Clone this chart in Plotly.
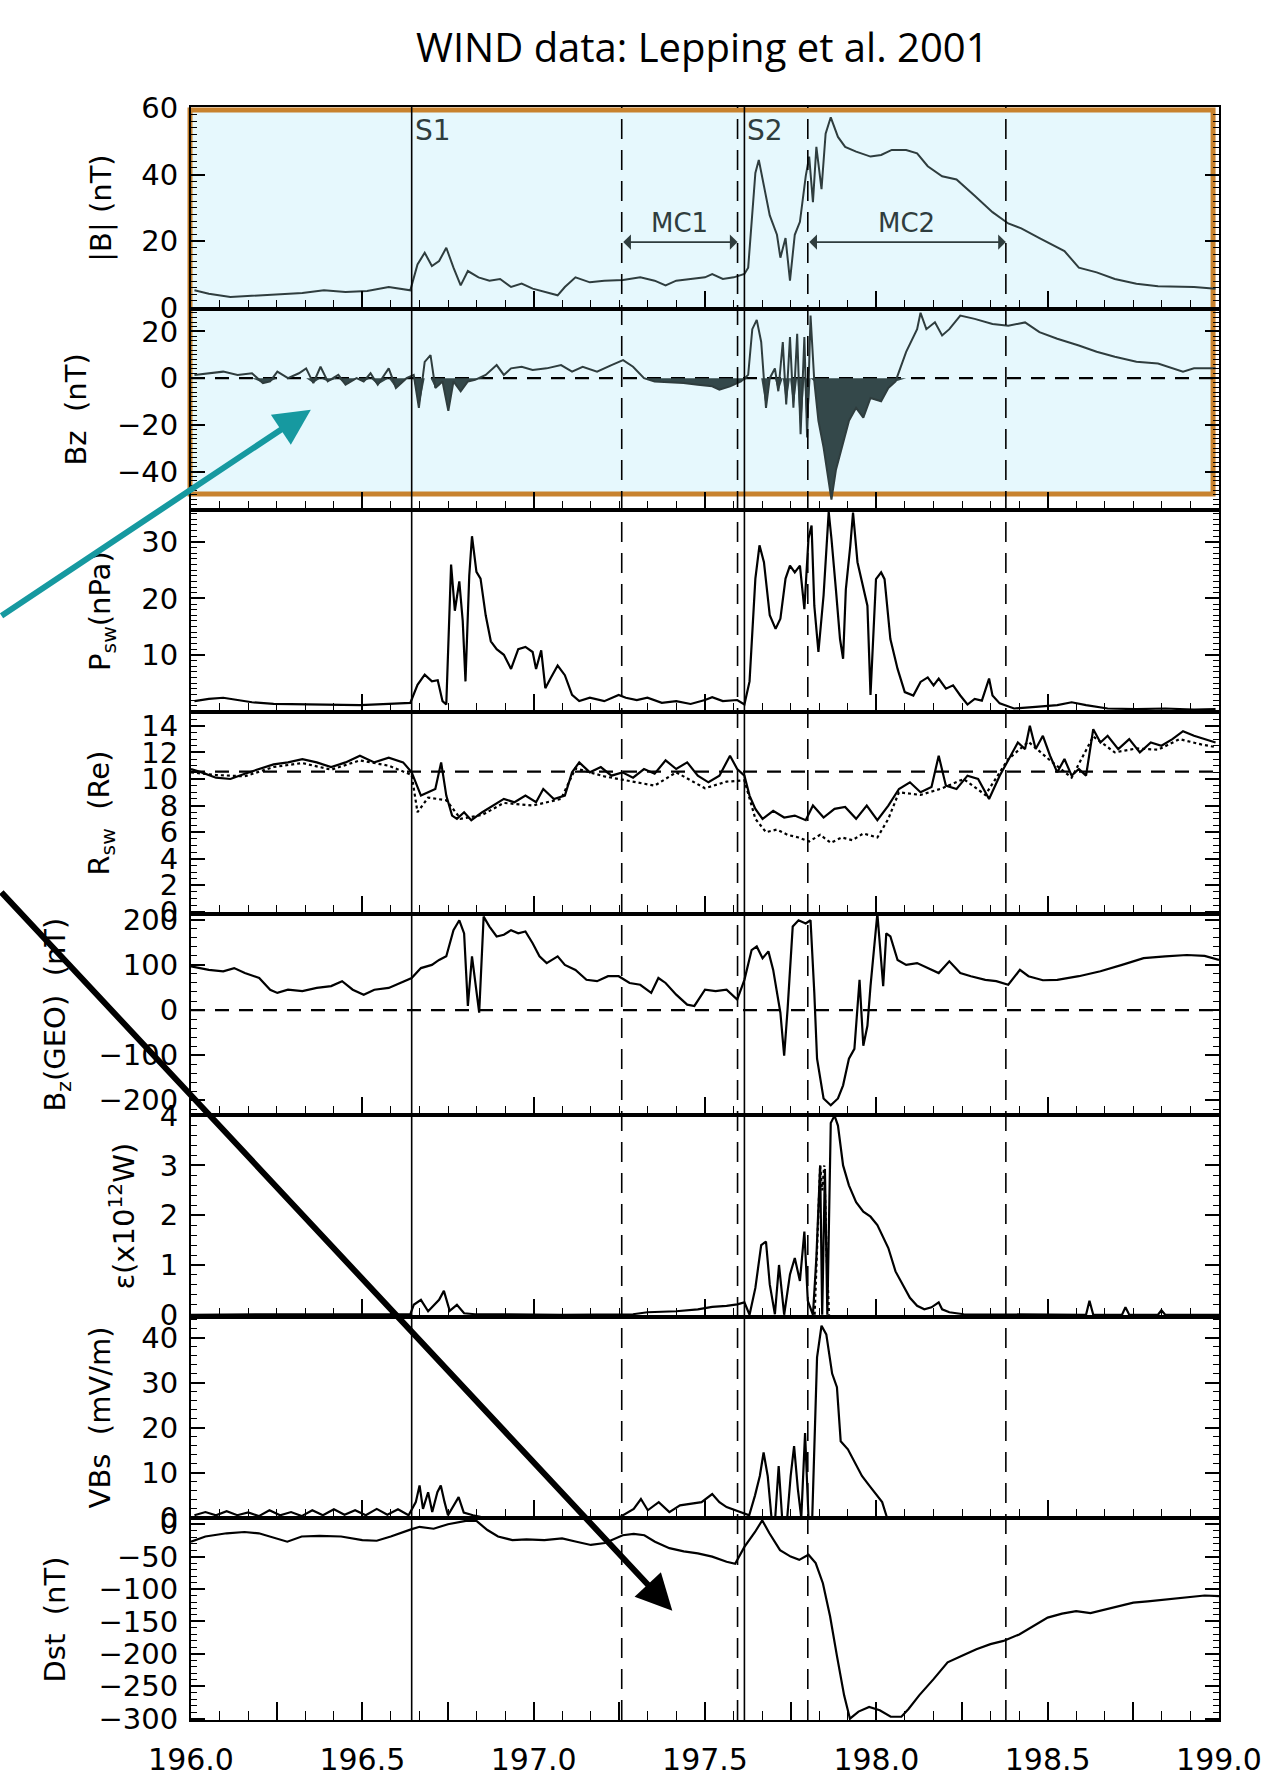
import numpy as np
import plotly.graph_objects as go
from plotly.subplots import make_subplots

# ---------------- data (day of year 1998) ----------------
b_day = [196.010,196.052,196.115,196.199,196.262,196.325,196.388,196.451,196.514,196.577,196.640,196.661,196.682,196.703,
         196.724,196.745,196.766,196.787,196.808,196.839,196.871,196.902,196.934,196.965,196.997,197.038,197.070,197.091,
         197.122,197.164,197.206,197.261,197.311,197.353,197.385,197.416,197.458,197.500,197.521,197.552,197.584,197.615,
         197.626,197.647,197.657,197.668,197.689,197.710,197.720,197.735,197.748,197.762,197.777,197.794,197.804,197.815,
         197.825,197.840,197.852,197.867,197.888,197.909,197.941,197.983,198.014,198.045,198.087,198.119,198.150,198.192,
         198.234,198.287,198.339,198.385,198.423,198.476,198.549,198.591,198.643,198.696,198.759,198.822,198.885,198.927,198.990]
b_mag = [5.2,4.2,3.2,3.7,4.2,4.4,5.2,4.7,5.0,6.2,5.2,13.0,16.5,12.5,
         14.0,18.0,12.0,6.7,11.0,9.1,8.1,8.6,6.2,7.2,5.7,4.7,3.7,6.2,
         9.1,7.6,8.1,8.3,9.1,8.1,6.7,8.1,8.6,9.1,10.1,8.6,9.1,10.1,
         12.0,40.5,44.4,38.5,27.7,21.9,15.0,20.9,8.1,21.9,25.8,39.5,45.4,31.7,
         48.3,35.6,52.3,57.2,51.3,48.3,46.9,45.4,45.9,47.4,47.4,46.4,42.5,39.5,
         38.5,33.6,28.7,25.3,23.8,20.9,17.0,12.0,10.6,8.6,7.2,6.4,6.2,6.2,5.7]

bz_day = [196.010,196.052,196.094,196.136,196.178,196.210,196.231,196.252,196.283,196.315,196.336,196.357,196.378,196.399,
          196.430,196.451,196.483,196.504,196.524,196.545,196.577,196.598,196.629,196.650,196.665,196.682,196.699,196.713,
          196.734,196.751,196.766,196.787,196.808,196.829,196.860,196.892,196.913,196.934,196.965,196.997,197.038,197.080,
          197.112,197.143,197.185,197.227,197.261,197.290,197.322,197.353,197.395,197.437,197.479,197.521,197.542,197.573,
          197.605,197.626,197.638,197.651,197.664,197.678,197.689,197.704,197.714,197.727,197.737,197.748,197.758,197.769,
          197.779,197.790,197.798,197.808,197.819,197.831,197.846,197.861,197.869,197.882,197.899,197.920,197.941,197.962,
          197.983,198.014,198.035,198.056,198.087,198.119,198.129,198.146,198.171,198.192,198.213,198.245,198.287,198.339,
          198.385,198.434,198.476,198.528,198.591,198.643,198.696,198.759,198.822,198.895,198.927,198.990]
bz_val = [1.4,2.1,2.8,1.4,2.1,-2.1,-1.4,2.8,0.0,2.1,4.2,-2.1,4.9,-1.4,
          1.4,-2.8,0.0,-1.4,2.1,-2.8,4.2,-4.2,0.0,1.4,-12.7,7.0,9.9,-4.2,
          -1.4,-14.0,-1.4,-5.6,-1.4,-0.7,1.4,5.6,1.4,4.2,4.9,3.5,4.2,5.6,
          2.8,4.9,2.8,5.6,7.7,4.9,0.0,-1.4,-1.7,-2.1,-2.8,-3.5,-4.9,-3.5,
          -1.4,1.4,21.0,25.0,15.5,-12.7,0.0,4.2,-5.6,15.5,-11.3,17.6,-12.7,19.0,
          -24.0,17.6,-25.4,26.8,-1.4,-18.3,-29.6,-43.7,-52.0,-39.4,-29.6,-18.3,-12.7,-16.9,
          -8.5,-9.9,-4.2,-1.4,11.3,21.0,28.0,21.0,24.0,18.3,21.0,26.8,25.4,23.2,
          22.5,23.9,19.7,16.9,14.0,11.3,9.2,7.0,6.3,2.8,4.2,4.2]

p_day = [196.010,196.052,196.094,196.136,196.178,196.241,196.325,196.409,196.493,196.577,196.640,196.661,196.682,196.703,
         196.720,196.734,196.745,196.759,196.770,196.783,196.793,196.801,196.812,196.820,196.833,196.845,196.860,196.875,
         196.892,196.913,196.934,196.955,196.976,196.997,197.007,197.022,197.034,197.049,197.070,197.091,197.112,197.133,
         197.164,197.206,197.248,197.269,197.301,197.332,197.374,197.416,197.458,197.500,197.521,197.552,197.594,197.615,
         197.630,197.647,197.659,197.672,197.689,197.706,197.720,197.735,197.748,197.762,197.777,197.790,197.802,197.811,
         197.819,197.831,197.846,197.861,197.869,197.882,197.894,197.903,197.911,197.924,197.932,197.945,197.962,197.974,
         197.983,197.991,197.999,198.014,198.024,198.041,198.062,198.083,198.108,198.129,198.150,198.167,198.182,198.203,
         198.224,198.245,198.266,198.287,198.308,198.329,198.339,198.360,198.402,198.465,198.528,198.570,198.612,198.675,
         198.759,198.843,198.927,198.990]
p_val = [1.8,2.2,2.4,2.0,1.6,1.3,1.2,1.2,1.1,1.3,1.5,4.7,6.5,5.3,
         5.5,1.8,1.2,26.0,17.8,23.0,16.0,5.3,24.0,31.0,24.7,23.5,17.0,12.4,
         11.0,10.0,7.5,11.0,11.4,10.5,7.5,10.8,4.1,5.8,8.1,6.4,2.9,1.8,
         2.4,1.8,2.9,2.4,2.0,2.4,1.5,1.8,1.3,2.0,2.5,1.8,2.0,1.2,
         5.3,23.5,29.4,26.4,17.0,14.6,16.4,23.5,25.8,24.6,25.8,18.1,30.6,32.9,
         18.7,10.5,20.5,35.3,30.6,21.6,12.8,9.3,21.6,29.3,35.2,26.4,21.6,18.7,
         2.9,14.6,23.4,24.6,23.4,12.8,7.5,3.4,2.8,5.2,6.0,4.6,5.8,4.0,
         4.6,2.8,1.2,2.2,1.9,5.8,2.8,1.4,0.5,0.8,1.1,1.6,1.1,0.5,
         0.4,0.5,0.3,0.4]

r_day = [196.000,196.031,196.073,196.115,196.157,196.199,196.241,196.283,196.325,196.367,196.409,196.451,196.493,196.535,
         196.577,196.619,196.644,196.671,196.692,196.713,196.730,196.745,196.762,196.776,196.797,196.818,196.850,196.881,
         196.913,196.944,196.976,197.007,197.028,197.059,197.091,197.112,197.133,197.164,197.196,197.227,197.259,197.290,
         197.322,197.353,197.385,197.416,197.448,197.479,197.510,197.542,197.573,197.594,197.615,197.630,197.647,197.668,
         197.699,197.731,197.762,197.794,197.815,197.846,197.878,197.909,197.941,197.972,198.003,198.035,198.066,198.098,
         198.129,198.161,198.182,198.203,198.234,198.266,198.297,198.329,198.360,198.392,198.413,198.434,198.448,198.465,
         198.486,198.507,198.528,198.549,198.570,198.591,198.612,198.633,198.654,198.675,198.706,198.738,198.769,198.801,
         198.832,198.864,198.895,198.927,198.958,198.990]
r_val = [10.75,10.5,10.1,10.0,10.4,10.75,11.1,11.25,11.5,11.25,10.9,11.25,11.75,11.25,
         11.6,11.25,10.5,8.75,9.0,9.25,11.25,8.75,7.25,7.0,7.5,6.9,7.5,8.0,
         8.5,8.25,8.75,8.25,9.25,8.5,8.75,10.5,11.25,10.5,10.9,10.25,10.5,10.1,
         10.75,10.4,11.4,10.75,11.25,10.25,9.75,10.25,11.75,10.75,10.25,8.75,7.75,7.0,
         7.6,7.1,7.25,6.9,8.0,7.1,7.75,7.9,7.0,8.0,6.9,8.0,9.25,9.75,
         9.0,9.4,11.75,9.5,9.25,10.25,10.0,8.5,10.25,11.75,12.75,12.25,14.0,12.25,
         13.25,11.75,10.5,11.5,10.25,10.75,10.25,13.75,12.75,13.25,12.25,13.0,12.0,12.75,
         12.5,13.0,13.6,13.25,13.0,12.75]

r2_day = [196.000,196.073,196.157,196.241,196.325,196.409,196.493,196.577,196.644,196.661,196.692,196.745,196.787,196.850,
          196.913,196.997,197.080,197.122,197.206,197.290,197.353,197.416,197.500,197.563,197.615,197.647,197.678,197.710,
          197.741,197.773,197.804,197.836,197.867,197.899,197.930,197.962,198.003,198.035,198.066,198.129,198.192,198.255,
          198.318,198.385,198.444,198.507,198.570,198.633,198.696,198.759,198.822,198.885,198.948,198.990]
r2_val = [10.5,10.3,10.2,10.9,11.2,10.7,11.4,11.0,10.3,7.5,8.6,8.4,7.0,7.3,
          8.2,8.0,8.5,10.8,10.2,9.8,9.5,10.5,9.3,9.8,9.9,7.0,6.0,6.2,
          5.8,5.6,5.3,5.8,5.2,5.6,5.4,5.9,5.6,7.0,9.0,8.8,9.3,10.0,
          8.8,11.5,12.8,11.4,10.1,13.2,12.0,12.3,12.2,13.0,12.6,12.4]

g_day = [196.000,196.052,196.094,196.126,196.157,196.199,196.231,196.252,196.283,196.325,196.367,196.409,196.441,196.472,
         196.504,196.535,196.577,196.608,196.644,196.671,196.703,196.724,196.745,196.766,196.783,196.797,196.808,196.820,
         196.829,196.841,196.854,196.871,196.892,196.913,196.934,196.955,196.976,196.997,197.017,197.038,197.070,197.091,
         197.122,197.154,197.185,197.217,197.248,197.280,197.311,197.343,197.364,197.385,197.416,197.448,197.469,197.500,
         197.531,197.563,197.594,197.615,197.636,197.651,197.668,197.685,197.699,197.720,197.731,197.741,197.756,197.773,
         197.794,197.808,197.819,197.827,197.846,197.867,197.888,197.903,197.920,197.936,197.951,197.962,197.974,197.983,
         198.003,198.020,198.029,198.041,198.062,198.087,198.119,198.150,198.182,198.213,198.245,198.276,198.318,198.350,
         198.385,198.419,198.444,198.486,198.528,198.591,198.654,198.717,198.780,198.843,198.906,198.958,199.000]
g_val = [96.7,89,85.7,93,82,71,45,38,45,42,49,53,64,45,
         34,45,49,60,71,93,100,111,119,177,199,170,9,119,
         67,-6,207,185,163,167,177,170,174,148,119,104,119,100,
         89,67,64,75,75,60,56,38,71,60,34,12,9,45,
         42,45,23,67,133,141,115,130,89,-6,-101,1.5,185,199,
         192,199,38,-108,-196,-211,-196,-167,-108,-86,67,-79,-35,53,
         214,53,170,163,111,100,104,93,82,108,82,75,67,64,
         56,89,75,66,67,75,86,100,115,119,122,120,111]

e_day = [196.000,196.241,196.640,196.650,196.671,196.692,196.724,196.738,196.755,196.776,196.797,196.829,197.080,197.290,
         197.332,197.416,197.479,197.521,197.563,197.594,197.615,197.630,197.647,197.664,197.678,197.689,197.704,197.716,
         197.731,197.748,197.762,197.777,197.790,197.800,197.815,197.825,197.836,197.842,197.850,197.857,197.867,197.878,
         197.888,197.903,197.920,197.941,197.962,197.983,198.003,198.020,198.035,198.056,198.077,198.098,198.119,198.140,
         198.161,198.182,198.192,198.213,198.255,198.612,198.622,198.633,198.717,198.727,198.738,198.822,198.832,198.843,199.000]
e_val = [0.0,0.01,0.01,0.2,0.3,0.07,0.3,0.48,0.08,0.2,0.03,0.01,0.0,0.01,
         0.05,0.07,0.11,0.16,0.18,0.21,0.25,0.0,0.54,1.4,1.47,0.61,0.01,1.0,
         0.0,0.81,1.14,0.68,1.67,0.28,0.0,1.14,3.0,0.0,2.93,0.0,3.85,4.0,
         3.8,3.0,2.6,2.26,2.07,1.97,1.8,1.54,1.34,0.87,0.61,0.34,0.18,0.11,
         0.15,0.25,0.11,0.05,0.01,0.0,0.28,0.0,0.0,0.15,0.0,0.0,0.09,0.0,0.0]
e2_day = [197.820,197.828,197.836,197.842,197.848,197.855,197.862]
e2_val = [0.0,1.5,3.0,2.5,3.0,1.2,0.0]

v_day = [196.010,196.042,196.073,196.104,196.135,196.167,196.198,196.229,196.260,196.292,196.323,196.354,196.385,196.417,
         196.448,196.479,196.510,196.542,196.573,196.604,196.635,196.656,196.667,196.677,196.692,196.704,196.719,196.729,
         196.740,196.750,196.781,196.796,196.823,196.854,197.250,197.292,197.313,197.333,197.365,197.396,197.427,197.458,
         197.490,197.521,197.542,197.563,197.594,197.615,197.629,197.646,197.660,197.671,197.683,197.694,197.705,197.715,
         197.725,197.740,197.750,197.760,197.771,197.781,197.792,197.802,197.813,197.827,197.840,197.854,197.871,197.885,
         197.896,197.917,197.938,197.958,197.979,198.000,198.017,198.031,199.000]
v_val = [0.6,1.3,0.6,1.5,0.6,1.2,0.4,1.7,0.6,1.3,0.4,1.7,0.6,1.9,
         0.7,1.7,0.6,2.0,0.7,1.9,0.6,3.5,7.2,2.0,5.7,1.3,5.7,7.2,
         3.5,0.6,4.6,1.2,0.6,0.1,0.1,2.0,4.2,1.7,3.5,1.3,2.8,3.1,
         3.5,5.3,3.5,2.4,1.5,0.9,0.6,5.0,9.3,14.5,9.3,0.1,0.1,11.5,
         0.1,0.1,9.3,15.9,6.4,0.0,18.8,0.1,0.1,35.6,42.6,40.7,32.0,29.0,
         17.0,15.2,12.3,9.3,7.2,5.0,3.5,0.1,0.1]

d_day = [196.000,196.042,196.104,196.156,196.198,196.250,196.281,196.323,196.375,196.438,196.500,196.542,196.583,196.642,
         196.667,196.708,196.750,196.802,196.833,196.865,196.896,196.938,196.979,197.031,197.083,197.125,197.167,197.208,
         197.260,197.292,197.323,197.354,197.396,197.438,197.479,197.521,197.563,197.588,197.615,197.646,197.667,197.688,
         197.719,197.750,197.775,197.802,197.823,197.844,197.865,197.885,197.906,197.923,197.948,197.979,198.010,198.042,
         198.073,198.094,198.125,198.167,198.208,198.250,198.292,198.333,198.371,198.417,198.458,198.500,198.542,198.583,
         198.625,198.667,198.708,198.750,198.792,198.833,198.875,198.917,198.958,199.000]
d_val = [-27,-19,-14,-12,-14,-22,-27,-19,-18,-19,-24.5,-25.5,-19,-8,
         -4,-7,0,5,5,-9,-19,-24.5,-23.5,-24.5,-22,-27,-32,-29,
         -17,-15,-17,-27,-37,-42,-45,-50,-58,-61,-35,-12,6,-14,
         -40,-50,-55,-47,-60,-91,-142,-203,-264,-300,-289,-282,-287,-297,
         -297,-285,-264,-239,-213,-203,-193,-185,-180,-170,-157,-144,-138,-134,
         -137,-132,-127,-121,-119,-117,-115,-112,-110,-111]

shock_days = [196.644, 197.615]                       # S1, S2 (solid)
boundary_days = [197.257, 197.595, 197.800, 198.378]  # MC1 / MC2 boundaries (dashed)
shock_labels = ["S1", "S2"]
mc_labels = ["MC1", "MC2"]

x_tickvals = [196.0, 196.25, 196.5, 196.75, 197.0, 197.25, 197.5, 197.75, 198.0, 198.25, 198.5, 198.75, 199.0]
x_ticktext = ["196.0", "", "196.5", "", "197.0", "", "197.5", "", "198.0", "", "198.5", "", "199.0"]

y_ranges = [[-0.3, 60.3], [-56.6, 29.8], [-0.1, 35.6], [-0.12, 15.05],
            [-233, 214], [-0.04, 4.01], [-0.1, 44.6], [-302, 9]]
y_tickvals = [[0, 20, 40, 60], [-40, -20, 0, 20], [10, 20, 30], [0, 2, 4, 6, 8, 10, 12, 14],
              [-200, -100, 0, 100, 200], [0, 1, 2, 3, 4], [0, 10, 20, 30, 40],
              [0, -50, -100, -150, -200, -250, -300]]
y_minor = [2, 2, 1, 0.5, 20, 0.2, 2, 10]
y_titles = ["|B| (nT)", "Bz  (nT)", "P<sub>sw</sub>(nPa)", "R<sub>sw</sub>  (Re)", "B<sub>z</sub>(GEO)  (nT)",
            "\u03b5(x10<sup>12</sup>W)", "VBs  (mV/m)", "Dst  (nT)"]
y_title_px = [100, 75, 101, 100, 56, 121, 99, 54]

# ---------------- figure ----------------
W, H = 1274, 1789
L, R, T, B = 191, 45, 107, 57
PW, PH = W - L - R, H - T - B

fig = make_subplots(rows=8, cols=1, shared_xaxes=True, vertical_spacing=0)

top_col = "#2f3d3e"
blk = "black"

fig.add_trace(go.Scatter(x=b_day, y=b_mag, mode="lines", line=dict(color=top_col, width=2)), row=1, col=1)
fig.add_trace(go.Scatter(x=bz_day, y=np.minimum(np.array(bz_val), 0), mode="lines", line=dict(width=0),
                         fill="tozeroy", fillcolor="#34484a"), row=2, col=1)
fig.add_trace(go.Scatter(x=bz_day, y=bz_val, mode="lines", line=dict(color=top_col, width=2)), row=2, col=1)
fig.add_trace(go.Scatter(x=p_day, y=p_val, mode="lines", line=dict(color=blk, width=2.2)), row=3, col=1)
fig.add_trace(go.Scatter(x=r2_day, y=r2_val, mode="lines", line=dict(color=blk, width=2.2, dash="dot")), row=4, col=1)
fig.add_trace(go.Scatter(x=r_day, y=r_val, mode="lines", line=dict(color=blk, width=2.2)), row=4, col=1)
fig.add_trace(go.Scatter(x=g_day, y=g_val, mode="lines", line=dict(color=blk, width=2.2)), row=5, col=1)
fig.add_trace(go.Scatter(x=e2_day, y=e2_val, mode="lines", line=dict(color=blk, width=2.2, dash="dot")), row=6, col=1)
fig.add_trace(go.Scatter(x=e_day, y=e_val, mode="lines", line=dict(color=blk, width=2.2)), row=6, col=1)
fig.add_trace(go.Scatter(x=v_day, y=v_val, mode="lines", line=dict(color=blk, width=2.2)), row=7, col=1)
fig.add_trace(go.Scatter(x=d_day, y=d_val, mode="lines", line=dict(color=blk, width=2.2)), row=8, col=1)

tick_font = dict(family="DejaVu Sans", size=29, color="black")
for i in range(8):
    fig.update_yaxes(row=i + 1, col=1, range=y_ranges[i], tickvals=y_tickvals[i], ticks="inside", ticklen=14,
                     tickwidth=1.5, tickcolor="black", minor=dict(dtick=y_minor[i], ticks="inside", ticklen=6,
                                                                   tickcolor="black", tickwidth=1),
                     showline=True, linecolor="black", linewidth=2, mirror="ticks", showgrid=False,
                     zeroline=False, tickfont=tick_font, ticklabelstandoff=5)
    fig.update_xaxes(row=i + 1, col=1, range=[196, 199], tickvals=x_tickvals, ticktext=x_ticktext,
                     ticks="inside", ticklen=18, tickwidth=1.5, tickcolor="black",
                     minor=dict(dtick=1 / 12, tick0=196, ticks="inside", ticklen=9, tickcolor="black", tickwidth=1.2),
                     showline=True, linecolor="black", linewidth=2, mirror=True, showgrid=False, zeroline=False,
                     tickfont=dict(family="DejaVu Sans", size=30, color="black"), ticklabelstandoff=12)

shapes = []
# highlighted box over |B| and Bz panels
shapes.append(dict(type="rect", xref="paper", yref="paper",
                   x0=(190 - L) / PW, x1=(1223 - L) / PW, y0=(H - B - 497) / PH, y1=(H - B - 110) / PH,
                   line=dict(color="#c8822e", width=5), fillcolor="#e6f8fd", layer="below"))
for xd in shock_days:
    shapes.append(dict(type="line", xref="x", yref="paper", x0=xd, x1=xd, y0=0, y1=1,
                       line=dict(color="black", width=1.6)))
for xd in boundary_days:
    shapes.append(dict(type="line", xref="x", yref="paper", x0=xd, x1=xd, y0=0, y1=1,
                       line=dict(color="black", width=1.6, dash="20px,11px")))
for ax_name, yv in [("2", 0), ("4", 10.55), ("5", 0)]:
    shapes.append(dict(type="line", xref="x%s domain" % ax_name, yref="y" + ax_name, x0=0, x1=1, y0=yv, y1=yv,
                       line=dict(color="black", width=2.2, dash="14px,10px"), layer="below"))
fig.update_layout(shapes=shapes)

ann = []
lab_font = dict(family="DejaVu Sans", size=28, color=top_col)
for xd, t in zip(shock_days, shock_labels):
    ann.append(dict(x=xd, xref="x", y=0.975, yref="y domain", text=t, showarrow=False, xanchor="left",
                    yanchor="top", xshift=1, font=lab_font))
mc_spans = [(boundary_days[0], boundary_days[1]), (boundary_days[2], boundary_days[3])]
for (a, b), t in zip(mc_spans, mc_labels):
    ann.append(dict(x=b, y=19.7, xref="x", yref="y", ax=a, ay=19.7, axref="x", ayref="y", text="",
                    showarrow=True, arrowside="end+start", arrowhead=1, arrowsize=1.6, arrowwidth=1.6,
                    arrowcolor=top_col, standoff=0, startstandoff=0))
    ann.append(dict(x=(a + b) / 2, y=20.3, xref="x", yref="y", text=t, showarrow=False, yanchor="bottom",
                    font=dict(family="DejaVu Sans", size=26, color=top_col)))

for i, (t, px) in enumerate(zip(y_titles, y_title_px)):
    ann.append(dict(x=(px - L) / PW, xref="paper", y=1 - (i + 0.5) / 8, yref="paper", text=t, textangle=-90,
                    showarrow=False, xanchor="center", yanchor="middle",
                    font=dict(family="DejaVu Sans", size=29, color="black")))

ann.append(dict(x=(707 - L) / PW, y=(H - B - 46) / PH, xref="paper", yref="paper",
                text="WIND data: Lepping et al. 2001", showarrow=False, xanchor="center", yanchor="middle",
                font=dict(family="Open Sans", size=40, color="black")))

# pointer arrows
ann.append(dict(x=(312 - L) / PW, y=(H - B - 412) / PH, xref="paper", yref="paper", text="", showarrow=True,
                ax=-312, ay=207, arrowhead=2, arrowsize=1.2, arrowwidth=6, arrowcolor="#1699a0", standoff=0))
ann.append(dict(x=(677 - L) / PW, y=(H - B - 1622) / PH, xref="paper", yref="paper", text="", showarrow=True,
                ax=-677, ay=-720, arrowhead=2, arrowsize=1.2, arrowwidth=6, arrowcolor="black", standoff=0))

fig.update_layout(annotations=ann, width=W, height=H, margin=dict(l=L, r=R, t=T, b=B),
                  paper_bgcolor="white", plot_bgcolor="rgba(0,0,0,0)", showlegend=False)

fig.write_html("out.html")
